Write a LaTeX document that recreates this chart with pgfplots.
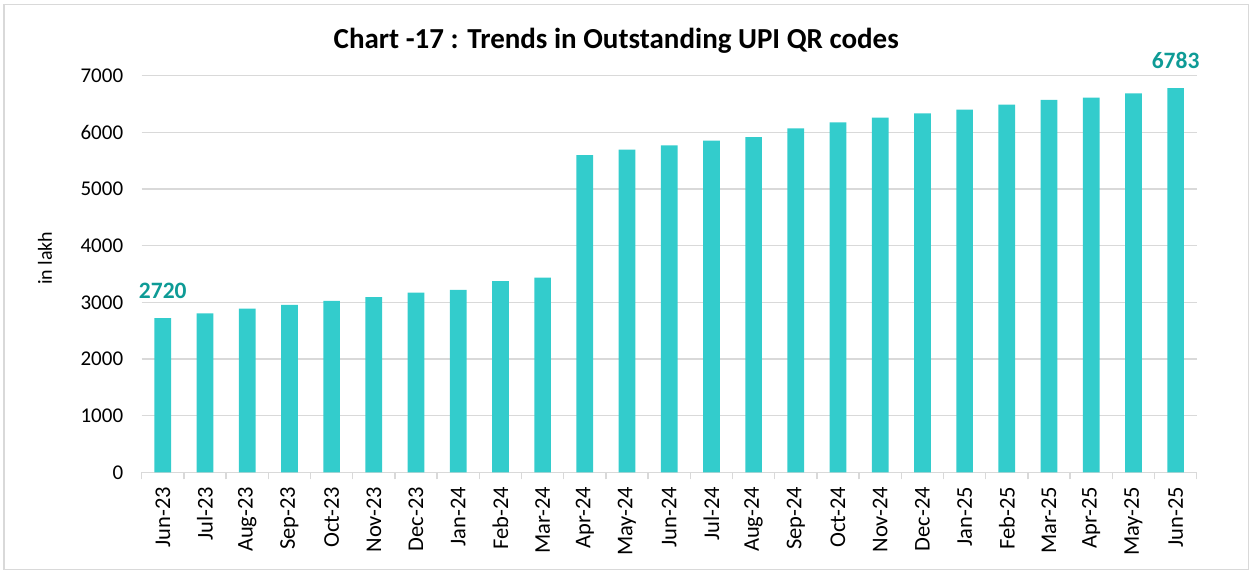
\documentclass[border=0pt]{standalone}
\usepackage{pgfplots}
\pgfplotsset{compat=1.18}
\usepackage{fontspec}
\setmainfont{Carlito}
\definecolor{barc}{RGB}{51,204,204}
\definecolor{labc}{RGB}{14,155,150}
\definecolor{gridc}{RGB}{217,217,217}
\definecolor{framec}{RGB}{217,217,217}
\begin{document}
\begin{tikzpicture}[x=1pt,y=1pt]
\useasboundingbox (-141.7,-100.7) rectangle (1110.3,472.3);
\draw[color=framec, line width=1.5pt] (-137.5,-97) rectangle (1107,468);
\node[font=\bfseries\fontsize{29}{34}\selectfont, anchor=base] at (474.5,424) {Chart -17 : Trends in Outstanding UPI QR codes};
\node[rotate=90, font=\fontsize{20}{24}\selectfont] at (-96.7,214) {in lakh};
\begin{axis}[
  at={(0pt,0pt)}, anchor=south west,
  scale only axis, width=1055pt, height=396.6pt,
  xmin=-0.5, xmax=24.5, ymin=0, ymax=7000,
  axis x line*=bottom, axis y line*=left,
  y axis line style={draw=none},
  x axis line style={color=gridc, line width=1.5pt},
  ytick={0,1000,...,7000},
  ymajorgrids, grid style={color=gridc, line width=1.3pt},
  ytick style={draw=none},
  xtick={0,...,24},
  xtick style={draw=none},
  major tick length=0pt,
  xticklabels={Jun-23,Jul-23,Aug-23,Sep-23,Oct-23,Nov-23,Dec-23,Jan-24,Feb-24,Mar-24,Apr-24,May-24,Jun-24,Jul-24,Aug-24,Sep-24,Oct-24,Nov-24,Dec-24,Jan-25,Feb-25,Mar-25,Apr-25,May-25,Jun-25},
  xticklabel style={font=\fontsize{22.5}{26}\selectfont, rotate=90, anchor=east, xshift=-11pt},
  yticklabel style={anchor=east, font=\fontsize{21}{25}\selectfont, xshift=-15pt},
  /pgf/number format/assume math mode=true,
  /pgf/number format/1000 sep={},
  extra x ticks={-0.5,0.5,...,24.5},
  extra x tick labels={},
  extra x tick style={major tick length=7pt, tick align=outside, xtick style={draw=gridc, line width=1.3pt}},
  clip=false,
]
\addplot[ybar, bar width=16.7pt, fill=barc, draw=none,
  point meta=explicit symbolic,
  nodes near coords,
  nodes near coords style={font=\bfseries\fontsize{23.5}{28}\selectfont, color=labc, anchor=south, inner sep=0pt, yshift=19pt},
] coordinates {
(0,2720) [2720]
(1,2805) []
(2,2890) []
(3,2955) []
(4,3025) []
(5,3090) []
(6,3170) []
(7,3220) []
(8,3375) []
(9,3435) []
(10,5600) []
(11,5695) []
(12,5770) []
(13,5855) []
(14,5915) []
(15,6070) []
(16,6175) []
(17,6260) []
(18,6335) []
(19,6400) []
(20,6490) []
(21,6575) []
(22,6615) []
(23,6690) []
(24,6783) [6783]
};
\end{axis}
\end{tikzpicture}
\end{document}
